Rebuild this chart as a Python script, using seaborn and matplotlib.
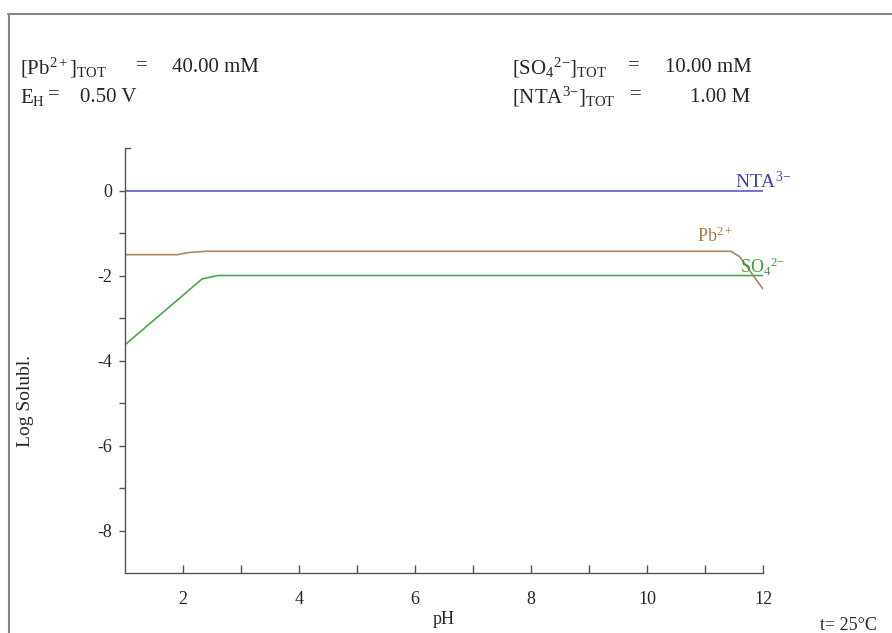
import matplotlib
matplotlib.use("Agg")
import matplotlib.pyplot as plt
from matplotlib.lines import Line2D
import seaborn as sns
import pandas as pd

# ---- data ----
nta_ph = [1.0, 12.0]
nta_log = [0.0, 0.0]

pb_ph = [1.0, 1.9, 2.1, 2.4, 11.45, 11.6, 12.0]
pb_log = [-1.51, -1.51, -1.46, -1.43, -1.43, -1.56, -2.32]

so4_ph = [1.0, 2.33, 2.6, 12.0]
so4_log = [-3.63, -2.08, -2.0, -2.0]

x_ticks = [2, 4, 6, 8, 10, 12]
y_ticks = [0, -2, -4, -6, -8]

sns.set_theme(style="white")
plt.rcParams['font.family'] = ['Liberation Serif', 'DejaVu Serif']
plt.rcParams['mathtext.fontset'] = 'custom'
plt.rcParams['mathtext.rm'] = 'Liberation Serif'
plt.rcParams['mathtext.it'] = 'Liberation Serif'
plt.rcParams['mathtext.bf'] = 'Liberation Serif'

fig = plt.figure(figsize=(8.92, 6.33), dpi=100)
ax = fig.add_axes([125/892, 1-573/633, (763-125)/892, (573-148)/633])

df = pd.concat([
    pd.DataFrame({"pH": nta_ph, "log": nta_log, "s": "NTA"}),
    pd.DataFrame({"pH": pb_ph, "log": pb_log, "s": "Pb"}),
    pd.DataFrame({"pH": so4_ph, "log": so4_log, "s": "SO4"}),
])
pal = {"NTA": "#5a5ad8", "Pb": "#b08460", "SO4": "#4ca84c"}
sns.lineplot(data=df, x="pH", y="log", hue="s", palette=pal, ax=ax,
             legend=False, linewidth=1.2, sort=False, estimator=None)

ax.set_xlim(1, 12)
ax.set_ylim(-9, 1)
ax.set_xticks(x_ticks)
ax.set_xticks([3, 5, 7, 9, 11], minor=True)
ax.set_yticks(y_ticks)
ax.set_yticks([-1, -3, -5, -7], minor=True)
ax.set_xticklabels([str(t) for t in x_ticks])
ax.set_yticklabels([str(t) for t in y_ticks])

for s in ["top", "right"]:
    ax.spines[s].set_visible(False)
for s in ["left", "bottom"]:
    ax.spines[s].set_color("#555555")
    ax.spines[s].set_linewidth(1.0)

ax.tick_params(axis='x', which='both', direction='in', length=6, color='#555555',
               bottom=True, labelsize=13, pad=13, width=1)
ax.tick_params(axis='y', which='both', direction='out', length=4, color='#555555',
               left=True, labelsize=13, pad=5, width=1)
# top cap of y-axis
ax.plot([0, 0.008], [1, 1], transform=ax.transAxes, color='#555555', lw=1, clip_on=False)

ax.set_xlabel("pH", fontsize=13, labelpad=2)
ax.set_ylabel("Log Solubl.", fontsize=14)
ax.yaxis.set_label_coords(-0.142, 0.405)

ax.text(11.52, 0.22, r"NTA$^{3\mathrm{-}}$", color="#4040b8", fontsize=14, va="center")
ax.text(10.86, -1.08, r"Pb$^{2+}$", color="#b07848", fontsize=13, va="center")
ax.text(11.6, -1.8, r"SO$_4$$^{2\mathrm{-}}$", color="#3c9c3c", fontsize=13, va="center")

fs = 15
def ftxt(xpx, ypx, s, **kw):
    fig.text(xpx/892, 1-ypx/633, s, fontsize=kw.pop("fontsize", fs), va="center", **kw)

ftxt(20, 68, r"[Pb$^{2+}$]$_{\mathrm{TOT}}$")
ftxt(136, 66, "=")
ftxt(172, 68, "40.00 mM")
ftxt(20, 97, r"E$_{\mathrm{H}}$")
ftxt(48, 95, "=")
ftxt(80, 97, "0.50 V")
ftxt(512, 68, r"[SO$_4$$^{2\mathrm{-}}$]$_{\mathrm{TOT}}$")
ftxt(628, 66, "=")
ftxt(665, 68, "10.00 mM")
ftxt(512, 97, r"[NTA$^{3\mathrm{-}}$]$_{\mathrm{TOT}}$")
ftxt(630, 95, "=")
ftxt(690, 97, "1.00 M")
ftxt(820, 625, "t= 25°C", fontsize=13)

# outer frame lines (top and left)
fig.add_artist(Line2D([8/892, 1], [1-14/633, 1-14/633], transform=fig.transFigure, color="#888888", lw=1.5))
fig.add_artist(Line2D([9/892, 9/892], [0, 1-14/633], transform=fig.transFigure, color="#888888", lw=1.5))

fig.savefig("out.png", dpi=100)
